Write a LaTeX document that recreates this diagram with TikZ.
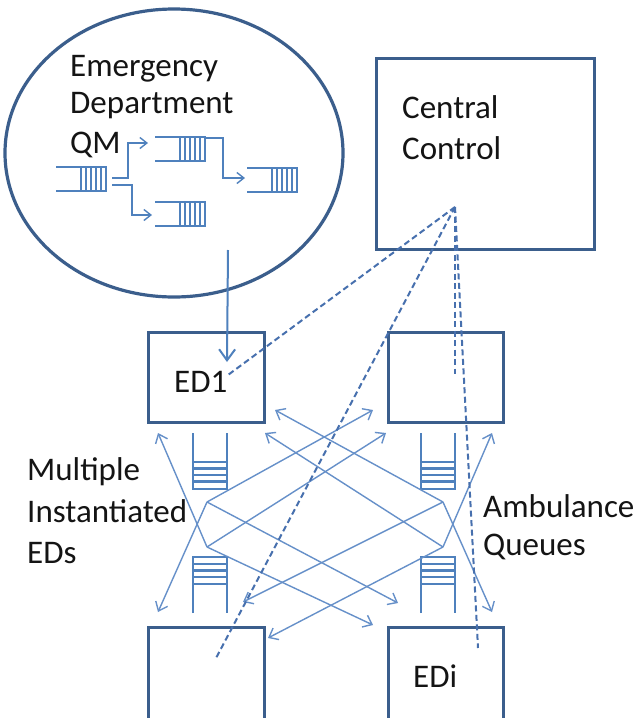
\documentclass[tikz,border=0pt]{standalone}
\usepackage{fontspec}
\setmainfont{Carlito}
\usetikzlibrary{arrows.meta}
\definecolor{boxblue}{HTML}{3B5E8C}
\definecolor{qblue}{HTML}{4F81BD}
\definecolor{lblue}{HTML}{6690C9}
\definecolor{dblue}{HTML}{4770AE}
\definecolor{txt}{HTML}{141414}
\begin{document}
\begin{tikzpicture}[x=1pt,y=-1pt,
  boxn/.style={draw=boxblue, line width=3.2pt, inner sep=0pt, anchor=north west},
  lbl/.style={anchor=base west, inner sep=0pt, font=\fontsize{33}{40}\selectfont, text=txt},
  qline/.style={draw=qblue, line width=1.6pt},
  vqline/.style={draw=qblue, line width=2.3pt},
  qarrow/.style={draw=qblue, line width=1.4pt, -{Straight Barb[length=7pt,width=11pt]}},
  link/.style={draw=lblue, line width=1.4pt, -{Straight Barb[length=8pt,width=13pt]}},
  bigarrow/.style={draw=qblue, line width=2pt, -{Straight Barb[length=11pt,width=16pt]}},
  dline/.style={draw=dblue, line width=2pt, dash pattern=on 6pt off 3.5pt},
  hq/.pic={
    \draw[qline] (0,0) -- (50,0) -- (50,24) -- (0,24);
    \foreach \x in {25,30,35,40,45} \draw[qline] (\x,0) -- (\x,24);
  },
  vqup/.pic={
    \draw[vqline] (0,0) -- (0,56) -- (34,56) -- (34,0);
    \foreach \y in {29,35.5,42,48.5} \draw[vqline] (0,\y) -- (34,\y);
  },
  vqdown/.pic={
    \draw[vqline] (0,56) -- (0,0) -- (34,0) -- (34,56);
    \foreach \y in {6.75,13.5,20.25,27} \draw[vqline] (0,\y) -- (34,\y);
  }
]
\useasboundingbox (0,0) rectangle (637,718);
\clip (0,0) rectangle (637,718);
\fill[white] (0,0) rectangle (637,718);

% Emergency Department QM ellipse
\draw[draw=boxblue, line width=3.2pt] (174,153) ellipse [x radius=169, y radius=144];
\node[lbl] (t1) at (70,76) {Emergency};
\node[lbl] (t2) at (70,113) {Department};
\node[lbl] (t3) at (70,153) {QM};

% queues inside ellipse
\pic at (56,167) {hq};
\pic at (155,137) {hq};
\pic at (155,202) {hq};
\pic at (247,168) {hq};
\coordinate (c1s) at (112,178); \coordinate (c1t) at (148,143);
\coordinate (c2s) at (112,185); \coordinate (c2t) at (152,215);
\coordinate (c3s) at (205,138); \coordinate (c3t) at (245,178);
\draw[qarrow] (c1s) -- ++(16,0) |- (c1t);
\draw[qarrow] (c2s) -- ++(20,0) |- (c2t);
\draw[qarrow] (c3s) -- ++(18,0) |- (c3t);

% Central control
\node[boxn, minimum width=218pt, minimum height=191pt] (cc) at (375,57) {};
\node[lbl] (t4) at (402,118) {Central};
\node[lbl] (t5) at (402,159) {Control};

% ED boxes
\node[boxn, minimum width=116pt, minimum height=90pt] (ed1) at (147,331) {};
\node[boxn, minimum width=115pt, minimum height=90pt] (ed2) at (387,331) {};
\node[boxn, minimum width=116pt, minimum height=120pt] (ed3) at (147,626) {};
\node[boxn, minimum width=115pt, minimum height=120pt] (edi) at (387,626) {};
\node[lbl] (t6) at (174,392) {ED1};
\node[lbl] (t7) at (413,687) {EDi};

% side labels
\node[lbl] (t8) at (27,480) {Multiple};
\node[lbl] (t9) at (27,522) {Instantiated};
\node[lbl] (t10) at (27,563) {EDs};
\node[lbl] (t11) at (483,517) {Ambulance};
\node[lbl] (t12) at (483,555) {Queues};

% ambulance queues
\pic at (193,433) {vqup};
\pic at (193,557) {vqdown};
\pic at (421,433) {vqup};
\pic at (421,557) {vqdown};

% ED QM to ED1
\coordinate (ea) at (228,250);
\coordinate (eb) at (227,362);
\draw[bigarrow] (ea) -- (eb);

% junctions and arrow tips
\coordinate (J1L) at (207,502);
\coordinate (J2L) at (207,547);
\coordinate (J1R) at (443,502);
\coordinate (J2R) at (443,547);
\coordinate (TLo) at (158,433);
\coordinate (BLo) at (158,612);
\coordinate (TRo) at (492,433);
\coordinate (BRo) at (492,612);
\coordinate (A1) at (275,410);
\coordinate (A2) at (265,433);
\coordinate (A3) at (373,410);
\coordinate (A4) at (386,433);
\coordinate (B1) at (243,602);
\coordinate (B2) at (268,638);
\coordinate (B3) at (398,603);
\coordinate (B4) at (373,625);

\draw[link] (J2L) -- (TLo);
\draw[link] (J1L) -- (BLo);
\draw[link] (J2R) -- (TRo);
\draw[link] (J1R) -- (BRo);
\draw[link] (J1R) -- (A1);
\draw[link] (J2R) -- (A2);
\draw[link] (J1L) -- (A3);
\draw[link] (J2L) -- (A4);
\draw[link] (J1R) -- (B1);
\draw[link] (J2R) -- (B2);
\draw[link] (J1L) -- (B3);
\draw[link] (J2L) -- (B4);

% dashed control lines
\coordinate (P) at (455,207);
\coordinate (d1) at (228,375);
\coordinate (d2) at (215,660);
\coordinate (d3) at (455,374);
\coordinate (d4) at (478,648);
\draw[dline] (P) -- (d1);
\draw[dline] (P) -- (d2);
\draw[dline] (P) -- (d3);
\draw[dline] (P) -- (d4);
\end{tikzpicture}
\end{document}
